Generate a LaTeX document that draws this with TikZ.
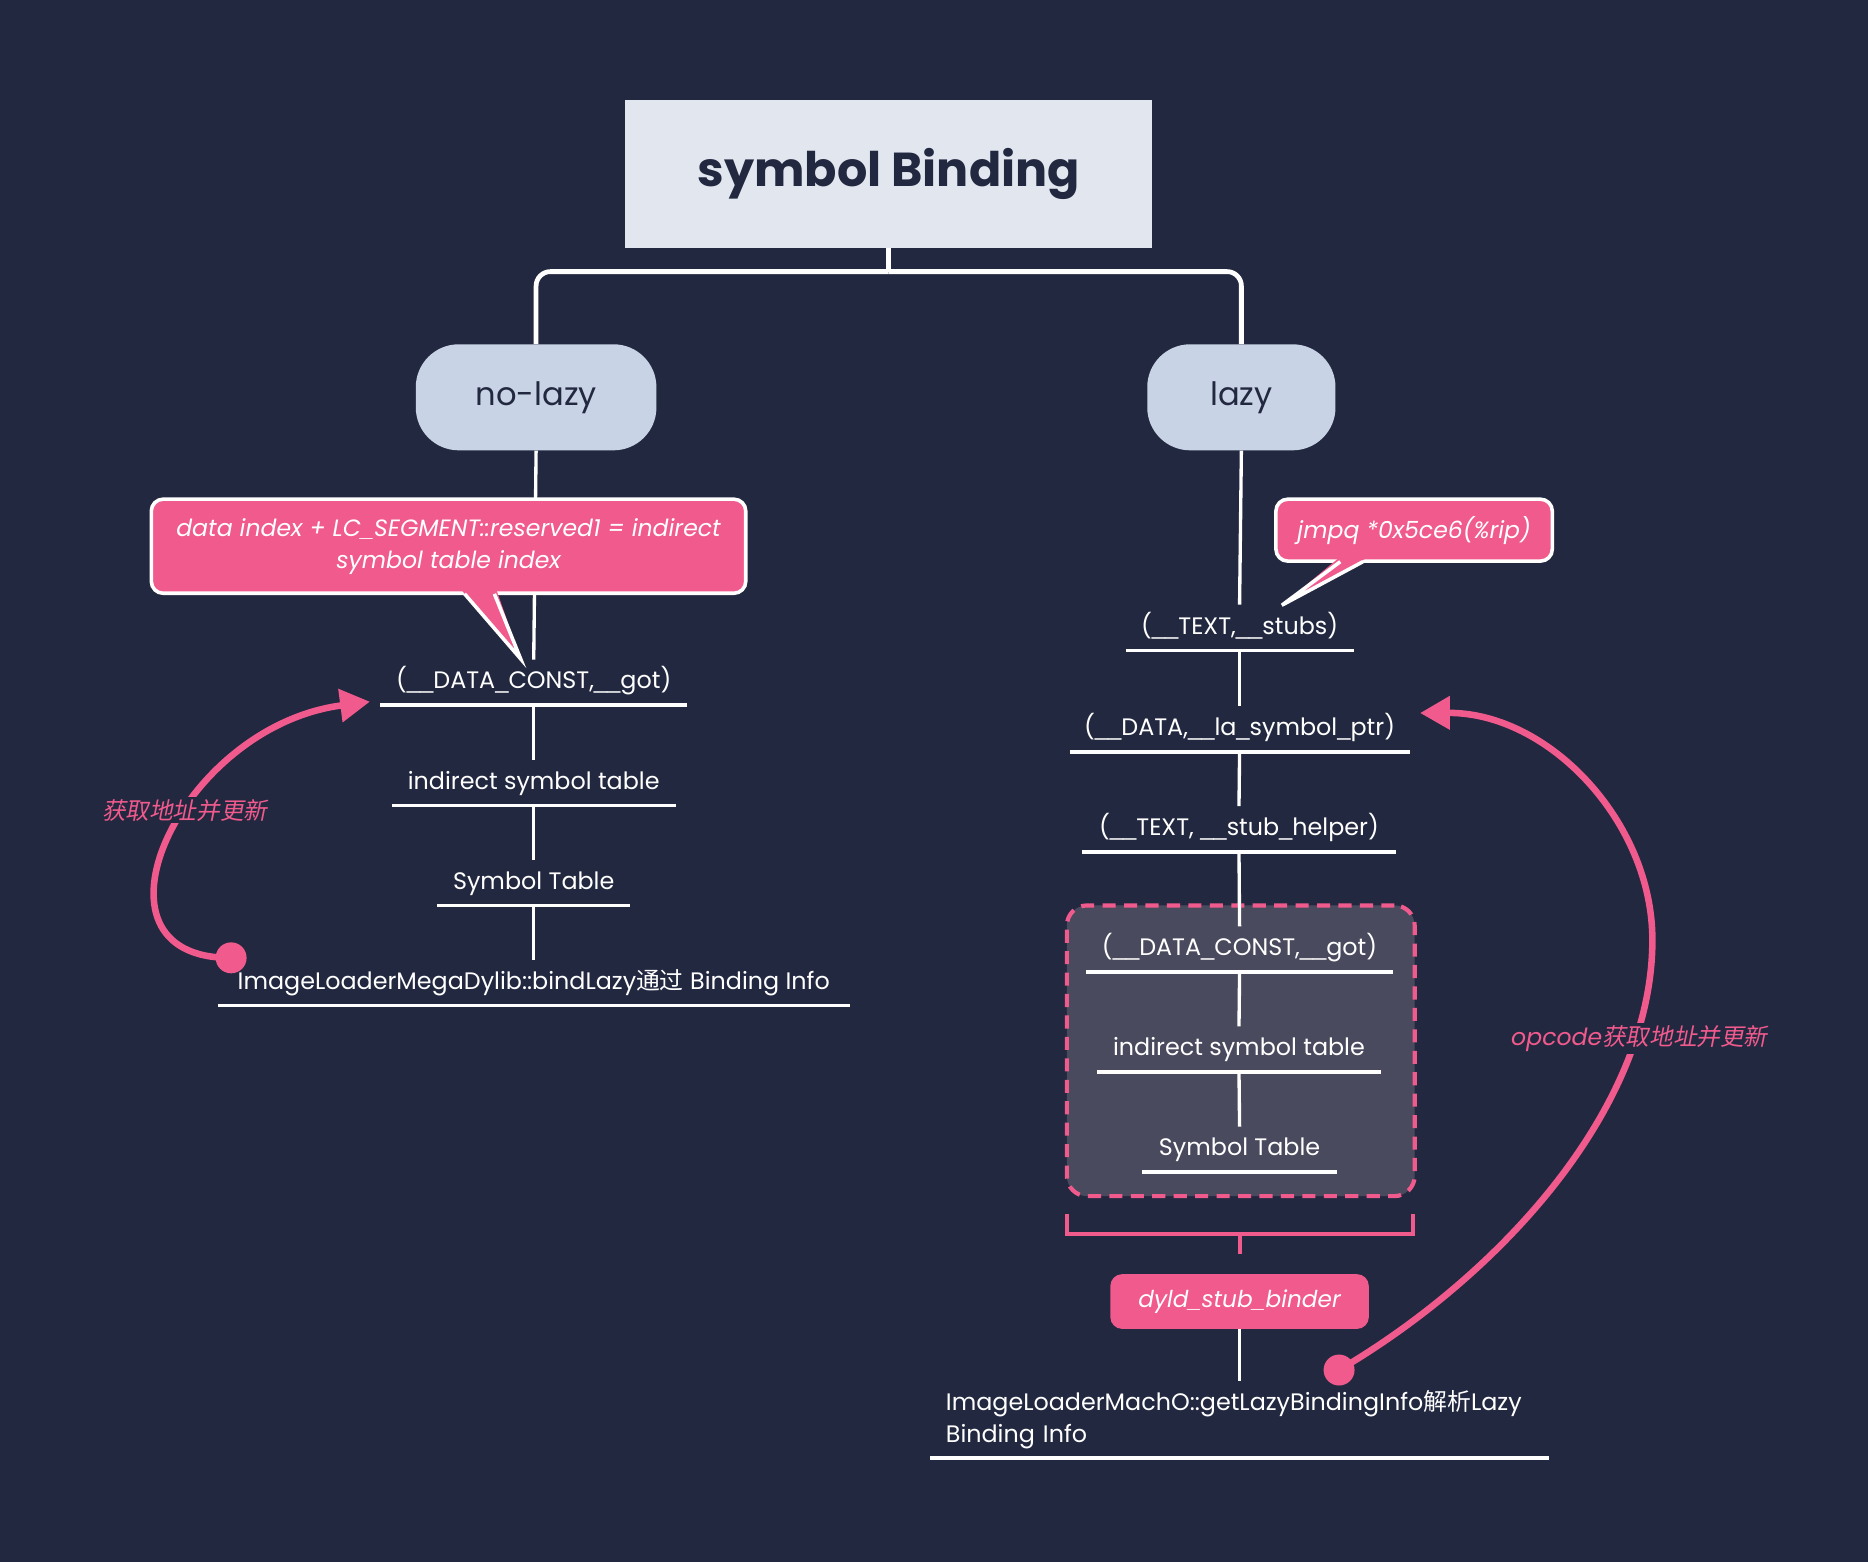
\documentclass[tikz,border=0pt]{standalone}
\usepackage{fontspec}
\setmainfont{Poppins}
\newfontfamily\cjk{Noto Sans CJK SC}
\newfontfamily\cjkit[FakeSlant=0.2]{Noto Sans CJK SC}
\newfontfamily\ulfont{Liberation Sans}
\newcommand{\us}{{\ulfont\_}}
\usetikzlibrary{arrows.meta}
\definecolor{bg}{HTML}{222840}
\definecolor{pinkc}{HTML}{F15A8C}
\definecolor{titlefill}{HTML}{E2E7EF}
\definecolor{pillfill}{HTML}{C8D3E5}
\definecolor{boxfill}{HTML}{4A4A5E}
\tikzset{
  titlebox/.style={fill=titlefill, text=bg, font=\bfseries\fontsize{40}{48}\selectfont, inner sep=0},
  pill/.style={fill=pillfill, text=bg, rounded corners=36, font=\fontsize{27}{32}\selectfont, inner sep=0, minimum height=89},
  uline/.style={anchor=south, text=white, font=\fontsize{20}{27}\selectfont, inner sep=0,
    append after command={(\tikzlastnode.south west) edge[draw=white, line width=3] (\tikzlastnode.south east)}},
  item/.style={uline, minimum height=38, text height=15, text depth=4},
  conn/.style={draw=white, line width=2.8},
  tree/.style={draw=white, line width=4},
  callrect/.style={fill=pinkc, draw=white, line width=3, rounded corners=10, text=white,
    font=\itshape\fontsize{19.8}{27}\selectfont, inner sep=0, align=center},
  tail/.style={fill=pinkc},
  tailedge/.style={draw=white, line width=3, line join=miter},
  dashbox/.style={fill=boxfill, draw=pinkc, line width=3.5, dash pattern=on 11 off 7, rounded corners=17, inner sep=0},
  pinkbox/.style={fill=pinkc, rounded corners=10, text=white, font=\itshape\fontsize{19.5}{24}\selectfont, inner sep=0},
  pinkline/.style={draw=pinkc, line width=3},
  dot/.style={circle, fill=pinkc, minimum size=26, inner sep=0},
  parrow/.style={draw=pinkc, line width=5.5, -{Triangle[length=25pt, width=27pt]}},
  lbl/.style={fill=bg, text=pinkc, font=\itshape\fontsize{19.8}{24}\selectfont, inner sep=2},
}
\begin{document}
\begin{tikzpicture}[x=1pt, y=-1pt]
\fill[bg] (0,0) rectangle (1568,1311);
\useasboundingbox (0,0) rectangle (1568,1311);

% title and branches
\node[titlebox, minimum width=442, minimum height=124] (title) at (746,146) {symbol Binding};
\node[pill, minimum width=202] (nolazy) at (450,333.5) {no-lazy};
\node[pill, minimum width=158] (lazy) at (1042,333.5) {lazy};
\coordinate (j) at (746,228);
\draw[tree] (title.south) -- (j);
\draw[tree, rounded corners=12] (j) -| (nolazy.north);
\draw[tree, rounded corners=12] (j) -| (lazy.north);

% left column
\node[item, minimum width=257] (lgot) at (448,592) {(\us\us DATA\us CONST,\us\us got)};
\node[item, minimum width=238] (lind) at (448,676) {indirect symbol table};
\node[item, minimum width=162] (lsym) at (448,760) {Symbol Table};
\node[item, minimum width=530] (lbind) at (448,844) {ImageLoaderMegaDylib::bindLazy{\cjk 通过} Binding Info};
\draw[conn] (nolazy.south) -- (lgot.north);
\draw[conn] (lgot.south) -- (lind.north);
\draw[conn] (lind.south) -- (lsym.north);
\draw[conn] (lsym.south) -- (lbind.north);

% left callout
\node[callrect, minimum width=499, minimum height=79] (c1) at (376.5,458.5)
  {data index + LC\us SEGMENT::reserved1 = indirect\\symbol table index};
\fill[tail] (388,496) -- (437,553) -- (417,496) -- cycle;
\draw[tailedge] (390,498.5) -- (437,553) -- (415,498.5);

% right column
\node[dashbox, minimum width=292, minimum height=244] (dbox) at (1041.5,882) {};
\node[item, minimum width=191] (stubs) at (1040.5,546) {(\us\us TEXT,\us\us stubs)};
\node[item, minimum width=285] (laptr) at (1040.5,631) {(\us\us DATA,\us\us la\us symbol\us ptr)};
\node[item, minimum width=264] (helper) at (1040,715) {(\us\us TEXT, \us\us stub\us helper)};
\node[item, minimum width=257] (rgot) at (1040.5,816) {(\us\us DATA\us CONST,\us\us got)};
\node[item, minimum width=238] (rind) at (1040,900) {indirect symbol table};
\node[item, minimum width=163] (rsym) at (1040.5,984) {Symbol Table};
\node[pinkbox, minimum width=217, minimum height=46] (dyld) at (1040.5,1092.5) {dyld\us stub\us binder};
\node[uline, minimum width=519, minimum height=64, text width=493, align=left] (rbind) at (1040.5,1224)
  {ImageLoaderMachO::getLazyBindingInfo{\cjk 解析}Lazy\\Binding Info};
\draw[conn] (lazy.south) -- (stubs.north);
\draw[conn] (stubs.south) -- (laptr.north);
\draw[conn] (laptr.south) -- (helper.north);
\draw[conn] (helper.south) -- (rgot.north);
\draw[conn] (rgot.south) -- (rind.north);
\draw[conn] (rind.south) -- (rsym.north);
\coordinate (br) at (1041,1036);
\draw[pinkline] (895.5,1019) -- (895.5,1036) -- (1186,1036) -- (1186,1019);
\draw[pinkline] (br) -- (1041,1053);
\draw[conn] (dyld.south) -- (rbind.north);

% right callout
\node[callrect, minimum width=232, minimum height=52] (c2) at (1187,445) {jmpq *0x5ce6(\%rip)};
\fill[tail] (1123,469) -- (1076,508) -- (1146,469) -- cycle;
\draw[tailedge] (1125,471.5) -- (1076,508) -- (1144,471.5);

% update arrows
\node[dot] (d1) at (194,804) {};
\coordinate (t1) at (310.5,589);
\draw[parrow] (d1.center) .. controls (62,805) and (150,610) .. (t1);
\node[lbl] (l1) at (155,680) {\cjkit 获取地址并更新};

\node[dot] (d2) at (1124,1150) {};
\coordinate (t2) at (1192,598.5);
\draw[parrow] (d2.center) .. controls (1260,1070) and (1387,930) .. (1387,789)
  .. controls (1387,690) and (1300,598) .. (t2);
\node[lbl] (l2) at (1376,872) {opcode{\cjkit 获取地址并更新}};
\end{tikzpicture}
\end{document}
